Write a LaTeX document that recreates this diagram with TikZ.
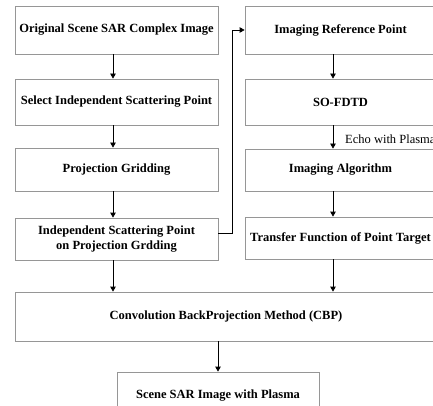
\documentclass[tikz,border=0pt]{standalone}
\usepackage{fontspec}
\setmainfont{Liberation Serif}
\usetikzlibrary{arrows.meta,calc}
\definecolor{boxgray}{RGB}{150,150,150}
\begin{document}
\begin{tikzpicture}[x=1pt,y=-1pt,
  box/.style={draw=boxgray,line width=0.8pt,inner sep=0pt,align=center,font=\fontsize{12.5}{15}\selectfont\bfseries},
  arr/.style={line width=0.8pt,-{Triangle[length=5pt,width=5.5pt]}}]
\useasboundingbox (0,0) rectangle (433,406);
\node[box,minimum width=203pt,minimum height=48pt] (L1) at (116.5,30) {Original Scene SAR Complex Image};
\node[box,minimum width=203pt,minimum height=46pt] (L2) at (116.5,102) {Select Independent Scattering Point};
\node[box,minimum width=203pt,minimum height=43pt] (L3) at (116.5,169.5) {Projection Gridding};
\node[box,minimum width=203pt,minimum height=42pt] (L4) at (116.5,239) {Independent Scattering Point\\on Projection Grdding};
\node[box,minimum width=191pt,minimum height=48pt] (R1) at (340.5,30) {Imaging Reference Point};
\node[box,minimum width=191pt,minimum height=46pt] (R2) at (340.5,102) {SO-FDTD};
\node[box,minimum width=191pt,minimum height=42pt] (R3) at (340.5,170) {Imaging Algorithm};
\node[box,minimum width=191pt,minimum height=42pt] (R4) at (340.5,238) {Transfer Function of Point Target};
\node[box,minimum width=422pt,minimum height=49pt] (C) at (226,316.5) {Convolution BackProjection Method (CBP)};
\node[box,minimum width=202pt,minimum height=48pt] (F) at (218,396) {Scene SAR Image with Plasma};
\node[anchor=west,inner sep=0pt,font=\fontsize{12.5}{15}\selectfont] (E) at (345,139) {Echo with Plasma};
% left column
\draw[arr] ([xshift=-3.5pt]L1.south) -- ([xshift=-3.5pt]L2.north);
\draw[arr] ([xshift=-3.5pt]L2.south) -- ([xshift=-3.5pt]L3.north);
\draw[arr] ([xshift=-3.5pt]L3.south) -- ([xshift=-3.5pt]L4.north);
\draw[arr] ([xshift=-3.5pt]L4.south) -- ([xshift=-3.5pt]L4.south |- C.north);
% right column
\draw[arr] ([xshift=-7.5pt]R1.south) -- ([xshift=-7.5pt]R2.north);
\draw[arr] ([xshift=-7.5pt]R2.south) -- ([xshift=-7.5pt]R3.north);
\draw[arr] ([xshift=-7.5pt]R3.south) -- ([xshift=-7.5pt]R4.north);
\draw[arr] ([xshift=-7.5pt]R4.south) -- ([xshift=-7.5pt]R4.south |- C.north);
% bottom
\draw[arr] ([xshift=-8pt]C.south) -- ([xshift=-8pt]C.south |- F.north);
% feedback connector
\coordinate (K) at (232,0);
\draw[arr] ([yshift=6pt]L4.east) -| (K |- R1.west) -- (R1.west);
\end{tikzpicture}
\end{document}
